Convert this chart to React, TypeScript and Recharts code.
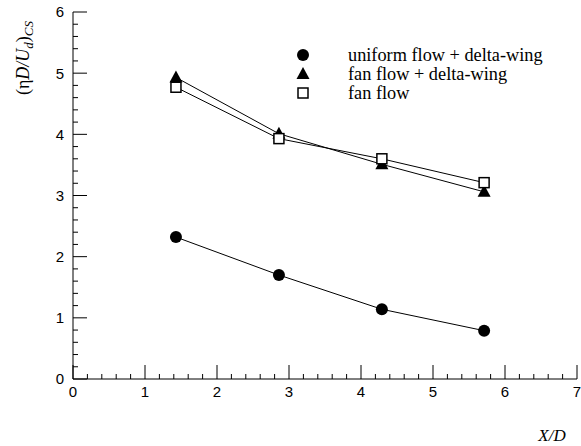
import React from 'react';
import { LineChart, Line, XAxis, YAxis, Legend } from 'recharts';

// X/D stations
const stations = [1.43, 2.86, 4.29, 5.71];
// (eta D / U_d)_CS for each configuration
const uniformDelta = [2.32, 1.7, 1.14, 0.79];
const fanDelta = [4.93, 4.01, 3.51, 3.06];
const fanOnly = [4.77, 3.93, 3.6, 3.21];

const xMajor = [0, 1, 2, 3, 4, 5, 6, 7];
const yMajor = [0, 1, 2, 3, 4, 5, 6];

const seriesNames = ['uniform flow + delta-wing', 'fan flow + delta-wing', 'fan flow'];

// minor ticks every 0.2 between the labelled ones
const withMinor = (major: number[]) => {
  const out: number[] = [];
  for (let i = 0; i < major.length - 1; i++) {
    for (let k = 0; k < 5; k++) out.push(Math.round((major[i] + k * 0.2) * 10) / 10);
  }
  out.push(major[major.length - 1]);
  return out;
};
const xTicks = withMinor(xMajor);
const yTicks = withMinor(yMajor);

const data = stations.map((x, i) => ({
  x,
  uniformDelta: uniformDelta[i],
  fanDelta: fanDelta[i],
  fanOnly: fanOnly[i],
}));

const isMajor = (v: number) => Math.abs(v - Math.round(v)) < 1e-6;
const tickFont = '"Liberation Sans", Arial, sans-serif';
const serif = '"Liberation Serif", "Times New Roman", serif';

const XTick = ({ x, y, payload }: any) => {
  const major = isMajor(payload.value);
  return (
    <g>
      <line x1={x} x2={x} y1={y} y2={y - (major ? 14 : 5)} stroke="#000" strokeWidth={1} />
      {major && (
        <text x={x} y={y + 18} textAnchor="middle" fontSize={15} fontFamily={tickFont} fill="#000">
          {Math.round(payload.value)}
        </text>
      )}
    </g>
  );
};

const YTick = ({ x, y, payload }: any) => {
  const major = isMajor(payload.value);
  return (
    <g>
      <line x1={x} x2={x + (major ? 14 : 5)} y1={y} y2={y} stroke="#000" strokeWidth={1} />
      {major && (
        <text x={x - 9} y={y} dy="0.36em" textAnchor="end" fontSize={15} fontFamily={tickFont} fill="#000">
          {Math.round(payload.value)}
        </text>
      )}
    </g>
  );
};

const Marker = ({ kind, cx, cy }: { kind: number; cx: number; cy: number }) => {
  if (kind === 0) return <circle cx={cx} cy={cy} r={6} fill="#000" />;
  if (kind === 1)
    return <polygon points={`${cx},${cy - 7} ${cx - 6.5},${cy + 5} ${cx + 6.5},${cy + 5}`} fill="#000" />;
  return <rect x={cx - 5} y={cy - 5} width={10} height={10} fill="#fff" stroke="#000" strokeWidth={1.5} />;
};

const dotFor = (kind: number) => (props: any) =>
  <Marker key={`m${kind}-${props.index}`} kind={kind} cx={props.cx} cy={props.cy} />;

const renderLegend = () => (
  <svg width={275} height={70} style={{ overflow: 'visible', display: 'block' }}>
    {seriesNames.map((name, i) => (
      <g key={name}>
        <Marker kind={i} cx={7} cy={10 + i * 19} />
        <text x={52} y={10 + i * 19} dy="0.35em" fontSize={18.3} fontFamily={serif} fill="#000">
          {name}
        </text>
      </g>
    ))}
  </svg>
);

export default function App() {
  return (
    <div style={{ position: 'absolute', left: 0, top: 0, width: 581, height: 446, background: '#fff' }}>
      <LineChart width={581} height={446} data={data} margin={{ top: 12, right: 4, left: 0, bottom: 0 }}>
        <XAxis
          dataKey="x"
          type="number"
          domain={[0, 7]}
          ticks={xTicks}
          interval={0}
          height={67}
          tickSize={0}
          tickMargin={0}
          tick={<XTick />}
          axisLine={{ stroke: '#000' }}
        />
        <YAxis
          type="number"
          domain={[0, 6]}
          ticks={yTicks}
          interval={0}
          width={73}
          tickSize={0}
          tickMargin={0}
          tick={<YTick />}
          axisLine={{ stroke: '#000' }}
        />
        <Legend
          layout="vertical"
          align="center"
          verticalAlign="middle"
          content={renderLegend}
          wrapperStyle={{ left: 296, top: 45, width: 275, height: 70, overflow: 'visible' }}
        />
        <Line dataKey="uniformDelta" stroke="#000" strokeWidth={1} dot={dotFor(0)} isAnimationActive={false} />
        <Line dataKey="fanDelta" stroke="#000" strokeWidth={1} dot={dotFor(1)} isAnimationActive={false} />
        <Line dataKey="fanOnly" stroke="#000" strokeWidth={1} dot={dotFor(2)} isAnimationActive={false} />
      </LineChart>
      <svg width={581} height={446} style={{ position: 'absolute', left: 0, top: 0, pointerEvents: 'none' }}>
        <text
          transform="translate(29,58) rotate(-90)"
          textAnchor="middle"
          fontSize={18}
          fontFamily={serif}
          fill="#000"
        >
          (<tspan fontStyle="normal">η</tspan>
          <tspan fontStyle="italic">D/U</tspan>
          <tspan fontStyle="italic" fontSize={13} dy={4}>d</tspan>
          <tspan dy={-4}>)</tspan>
          <tspan fontStyle="italic" fontSize={13} dy={4}>CS</tspan>
        </text>
        <text x={552} y={441} textAnchor="middle" fontSize={17} fontStyle="italic" fontFamily={serif} fill="#000">
          X/D
        </text>
      </svg>
    </div>
  );
}
